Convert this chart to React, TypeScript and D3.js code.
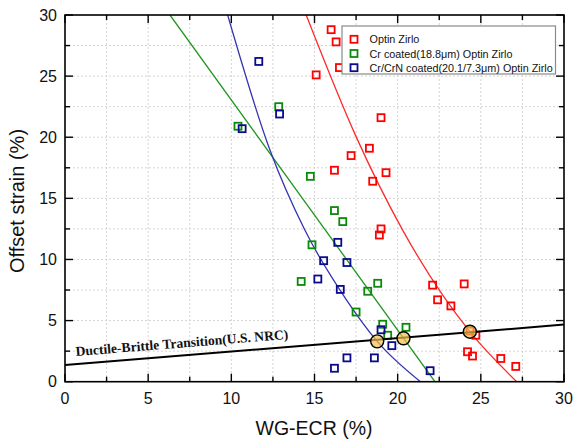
import React from 'react';
import * as d3 from 'd3';

// measured points (WG-ECR %, offset strain %)
const zirloX = [16.0, 16.3, 16.5, 15.1, 19.0, 18.3, 17.2, 16.2, 19.3, 18.5, 19.0, 18.9, 22.1, 24.0, 22.4, 23.2, 24.35, 24.7, 24.2, 24.5, 26.2, 27.1];
const zirloY = [28.8, 27.8, 25.7, 25.1, 21.6, 19.1, 18.5, 17.3, 17.1, 16.4, 12.5, 12.0, 7.9, 8.0, 6.7, 6.2, 4.15, 3.8, 2.45, 2.1, 1.9, 1.25];

const crX = [12.85, 10.4, 14.75, 16.2, 16.7, 14.85, 14.2, 18.8, 18.2, 17.5, 19.1, 20.5, 19.4];
const crY = [22.5, 20.9, 16.8, 14.0, 13.1, 11.2, 8.2, 8.05, 7.4, 5.7, 4.7, 4.45, 3.8];

const crnX = [11.65, 12.9, 10.65, 16.4, 15.55, 16.95, 15.2, 16.55, 19.0, 19.65, 16.95, 18.6, 16.2, 21.95];
const crnY = [26.2, 21.9, 20.7, 11.4, 9.9, 9.75, 8.4, 7.55, 4.25, 2.95, 1.95, 1.95, 1.1, 0.9];

// fitted curves
const zirloFitX = [14.5, 17.5, 20.3, 24.34, 27.16];
const zirloFitY = [30, 20.05, 12.4, 4.09, 0];
const crFitX = [6.31, 22.24];
const crFitY = [30, 0];
const crnFitX = [9.78, 12.32, 14.42, 16.93, 18.77, 21.37];
const crnFitY = [30, 18.96, 12.41, 6.68, 3.3, 0];

// ductile-brittle transition line
const dbtX = [0, 30];
const dbtY = [1.37, 4.67];

// intersections
const crossX = [18.77, 20.35, 24.34];
const crossY = [3.3, 3.55, 4.09];

const ticks = [0, 5, 10, 15, 20, 25, 30];
const minorTicks = [2.5, 7.5, 12.5, 17.5, 22.5, 27.5];

const seriesNames = [
  'Optin Zirlo',
  'Cr coated(18.8\u03bcm) Optin Zirlo',
  'Cr/CrN coated(20.1/7.3\u03bcm)  Optin Zirlo',
];
const markerColors = ['#ff0000', '#0a8a0a', '#0a0a8c'];
const lineColors = ['#ff2a2a', '#1f951f', '#3434b4'];

const W = 573;
const H = 442;
const left = 65, right = 564, top = 15, bottom = 381.7;

export default function App() {
  const x = d3.scaleLinear().domain([0, 30]).range([left, right]);
  const y = d3.scaleLinear().domain([0, 30]).range([bottom, top]);

  const line = d3.line<[number, number]>()
    .x(d => x(d[0]))
    .y(d => y(d[1]))
    .curve(d3.curveMonotoneX);

  const zip = (a: number[], b: number[]) => a.map((v, i) => [v, b[i]] as [number, number]);

  const series = [zip(zirloX, zirloY), zip(crX, crY), zip(crnX, crnY)];
  const fits = [
    zip(zirloFitX, zirloFitY),
    zip(crFitX, crFitY),
    zip(crnFitX, crnFitY),
  ].map(p => p.slice().sort((a, b) => a[0] - b[0]));

  const font = 'Arial, "Liberation Sans", Helvetica, sans-serif';
  const sq = 7;

  // text angle along the transition line
  const ang = Math.atan2(y(dbtY[1]) - y(dbtY[0]), x(dbtX[1]) - x(dbtX[0])) * 180 / Math.PI;
  const labX = x(0.66);
  const labY = y(dbtY[0] + (dbtY[1] - dbtY[0]) * 0.66 / 30) - 8;

  return (
    <svg width={W} height={H} style={{ position: 'absolute', left: 0, top: 0, background: '#fff' }}>
      <defs>
        <clipPath id="plot">
          <rect x={left} y={top} width={right - left} height={bottom - top} />
        </clipPath>
      </defs>

      {/* grid */}
      <g stroke="#d4d4d4" strokeWidth={1} strokeDasharray="2,2">
        {ticks.concat(minorTicks).filter(t => t > 0 && t < 30).map(t => (
          <g key={'g' + t}>
            <line x1={x(t)} x2={x(t)} y1={top} y2={bottom} />
            <line x1={left} x2={right} y1={y(t)} y2={y(t)} />
          </g>
        ))}
      </g>

      {/* fit curves */}
      <g clipPath="url(#plot)" fill="none" strokeWidth={1.3}>
        {fits.map((f, i) => (
          <path key={'f' + i} d={line(f) || ''} stroke={lineColors[i]} />
        ))}
      </g>

      {/* points */}
      {series.map((s, i) => (
        <g key={'s' + i} fill="none" stroke={markerColors[i]} strokeWidth={1.8}>
          {s.map((d, j) => (
            <rect key={j} x={x(d[0]) - sq / 2} y={y(d[1]) - sq / 2} width={sq} height={sq} />
          ))}
        </g>
      ))}

      {/* transition line */}
      <line x1={x(dbtX[0])} y1={y(dbtY[0])} x2={x(dbtX[1])} y2={y(dbtY[1])} stroke="#000" strokeWidth={2} />
      <text
        x={labX}
        y={labY}
        transform={`rotate(${ang} ${labX} ${labY})`}
        fontFamily='"Liberation Serif", "Times New Roman", serif'
        fontWeight="bold"
        fontSize={13.6}
        fill="#111"
      >
        Ductile-Brittle Transition(U.S. NRC)
      </text>

      {/* intersections */}
      {crossX.map((cx, i) => (
        <circle key={'c' + i} cx={x(cx)} cy={y(crossY[i])} r={6.5}
          fill="#f2c14e" fillOpacity={0.7} stroke="#000" strokeWidth={1.4} />
      ))}

      {/* frame */}
      <rect x={left} y={top} width={right - left} height={bottom - top} fill="none" stroke="#000" strokeWidth={1.6} />

      {/* ticks, inward on all sides */}
      <g stroke="#000" strokeWidth={1.4}>
        {ticks.concat(minorTicks).map(t => {
          const len = ticks.includes(t) ? 8 : 5;
          return (
            <g key={'t' + t}>
              <line x1={x(t)} x2={x(t)} y1={bottom} y2={bottom - len} />
              <line x1={x(t)} x2={x(t)} y1={top} y2={top + len} />
              <line x1={left} x2={left + len} y1={y(t)} y2={y(t)} />
              <line x1={right} x2={right - len} y1={y(t)} y2={y(t)} />
            </g>
          );
        })}
      </g>

      {/* tick labels */}
      <g fontFamily={font} fontSize={16} fill="#111">
        {ticks.map(t => (
          <text key={'xl' + t} x={x(t)} y={404} textAnchor="middle">{t}</text>
        ))}
        {ticks.map(t => (
          <text key={'yl' + t} x={57} y={y(t)} textAnchor="end" dominantBaseline="central">{t}</text>
        ))}
      </g>

      {/* axis titles */}
      <text x={314} y={435} textAnchor="middle" fontFamily={font} fontSize={19.5} fill="#111">WG-ECR (%)</text>
      <text transform="translate(24,201) rotate(-90)" textAnchor="middle" fontFamily={font} fontSize={20} fill="#111">
        Offset strain (%)
      </text>

      {/* legend */}
      <rect x={342} y={26} width={213.5} height={48} fill="#fff" stroke="#8a8a8a" strokeWidth={1.2} />
      {seriesNames.map((n, i) => (
        <g key={'lg' + i}>
          <rect x={354 - sq / 2} y={39.3 + i * 14.2 - sq / 2} width={sq} height={sq}
            fill="none" stroke={markerColors[i]} strokeWidth={1.8} />
          <text x={369.5} y={39.3 + i * 14.2} dominantBaseline="central" fontFamily={font} fontSize={10.8} fill="#111">{n}</text>
        </g>
      ))}
    </svg>
  );
}
